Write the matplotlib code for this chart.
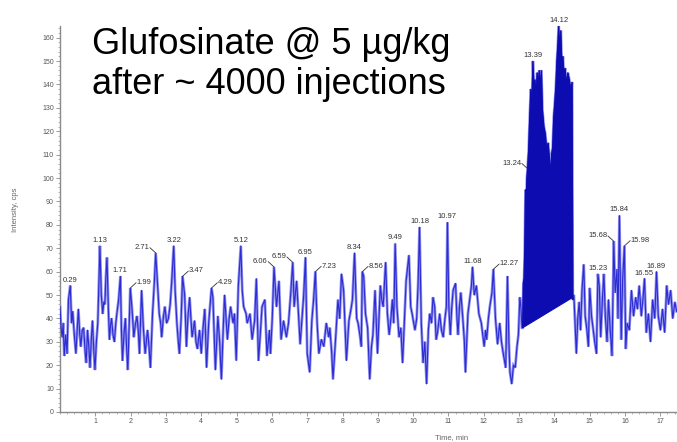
import numpy as np
import matplotlib
matplotlib.use("Agg")
import matplotlib.pyplot as plt
from matplotlib.ticker import MultipleLocator

time_a = [0.00, 0.03, 0.06, 0.09, 0.12, 0.16, 0.20, 0.24, 0.29, 0.33,
          0.36, 0.40, 0.45, 0.49, 0.52, 0.56, 0.59, 0.63, 0.67, 0.71,
          0.74, 0.78, 0.82, 0.85, 0.89, 0.92, 0.96, 0.99, 1.03, 1.07,
          1.10, 1.13, 1.17, 1.21, 1.24, 1.27, 1.30, 1.33, 1.37, 1.40,
          1.43, 1.46, 1.50, 1.54, 1.58, 1.61, 1.66, 1.71, 1.74, 1.77,
          1.81, 1.85, 1.89, 1.92, 1.96, 1.99, 2.04, 2.09, 2.13, 2.18,
          2.22, 2.25, 2.28, 2.31, 2.36, 2.41, 2.45, 2.48, 2.52, 2.56,
          2.59, 2.62, 2.67, 2.71, 2.76, 2.81, 2.85, 2.88, 2.93, 2.97,
          3.02, 3.07, 3.12, 3.16, 3.22, 3.26, 3.31, 3.35, 3.38, 3.43]
cps_a = [45, 36, 32, 38, 24, 33, 25, 48, 54, 38,
         43, 34, 25, 36, 44, 33, 28, 35, 36, 26,
         21, 35, 27, 19, 32, 39, 25, 18, 30, 38,
         55, 71, 50, 42, 47, 46, 58, 66, 44, 31,
         37, 40, 33, 30, 38, 42, 48, 58, 35, 22,
         33, 40, 26, 18, 38, 53, 44, 32, 37, 41,
         34, 25, 38, 52, 36, 25, 31, 35, 28, 19,
         30, 42, 55, 68, 55, 42, 38, 32, 41, 45,
         38, 40, 46, 55, 71, 52, 38, 30, 25, 40]

time_b = [3.47, 3.53, 3.58, 3.62, 3.67, 3.74, 3.81, 3.85, 3.89, 3.95,
          4.00, 4.05, 4.10, 4.15, 4.21, 4.29, 4.33, 4.40, 4.47, 4.52,
          4.57, 4.62, 4.66, 4.74, 4.79, 4.83, 4.90, 4.94, 4.99, 5.05,
          5.12, 5.16, 5.20, 5.27, 5.30, 5.38, 5.44, 5.51, 5.56, 5.62,
          5.67, 5.72, 5.80, 5.86, 5.93, 5.96, 6.01, 6.06, 6.13, 6.20,
          6.26, 6.33, 6.41, 6.47, 6.53, 6.59, 6.63, 6.70, 6.76, 6.80,
          6.86, 6.90, 6.95, 7.00, 7.07, 7.13, 7.18, 7.23, 7.28, 7.33]
cps_b = [58, 50, 28, 40, 49, 32, 39, 30, 27, 35,
         25, 36, 44, 19, 38, 53, 49, 18, 41, 30,
         14, 35, 50, 31, 40, 45, 38, 42, 22, 54,
         71, 52, 45, 42, 38, 42, 31, 39, 57, 22,
         33, 45, 48, 24, 35, 25, 40, 62, 45, 56,
         31, 39, 32, 38, 50, 64, 45, 56, 40, 29,
         42, 50, 66, 25, 17, 39, 48, 60, 38, 25]

time_c = [7.40, 7.47, 7.54, 7.61, 7.64, 7.69, 7.73, 7.81, 7.87, 7.92,
          7.97, 8.03, 8.11, 8.18, 8.24, 8.28, 8.34, 8.40, 8.44, 8.49,
          8.53, 8.56, 8.60, 8.65, 8.71, 8.77, 8.82, 8.86, 8.92, 8.99,
          9.07, 9.11, 9.15, 9.22, 9.27, 9.32, 9.37, 9.41, 9.45, 9.49,
          9.54, 9.60, 9.65, 9.70, 9.75, 9.80, 9.88, 9.93, 9.97, 10.05,
          10.10, 10.14, 10.18, 10.23, 10.28, 10.33, 10.38, 10.43, 10.47, 10.52,
          10.56, 10.61, 10.65, 10.69, 10.75, 10.80, 10.85, 10.90, 10.94, 10.97]
cps_c = [31, 28, 38, 32, 36, 26, 14, 33, 48, 40,
         59, 52, 22, 39, 44, 48, 68, 40, 38, 33,
         28, 60, 58, 42, 36, 14, 28, 33, 52, 25,
         54, 48, 45, 64, 42, 33, 40, 48, 38, 72,
         45, 32, 36, 21, 38, 56, 67, 45, 42, 35,
         40, 55, 79, 38, 21, 30, 12, 35, 42, 38,
         49, 45, 31, 34, 42, 35, 32, 40, 45, 81]

time_d = [11.01, 11.05, 11.09, 11.13, 11.20, 11.24, 11.27, 11.31, 11.35, 11.41,
          11.45, 11.48, 11.55, 11.60, 11.65, 11.68, 11.73, 11.79, 11.86, 11.93,
          12.01, 12.05, 12.08, 12.13, 12.17, 12.23, 12.27, 12.33, 12.39, 12.45,
          12.50, 12.55, 12.62, 12.67, 12.71, 12.74, 12.79, 12.84, 12.89, 12.94,
          12.98, 13.02, 13.05, 13.08]
cps_d = [45, 33, 44, 52, 55, 40, 33, 45, 51, 39,
         30, 17, 42, 48, 54, 62, 50, 54, 42, 38,
         28, 35, 31, 40, 45, 51, 61, 40, 29, 38,
         30, 25, 19, 58, 30, 17, 12, 20, 19, 28,
         33, 49, 45, 36]

# integrated glufosinate peak
time_peak = [13.10, 13.12, 13.14, 13.16, 13.18, 13.20, 13.22, 13.24, 13.27, 13.30,
             13.33, 13.36, 13.39, 13.42, 13.45, 13.48, 13.51, 13.54, 13.57, 13.60,
             13.63, 13.66, 13.70, 13.74, 13.78, 13.82, 13.86, 13.89, 13.92, 13.95,
             13.98, 14.01, 14.04, 14.07, 14.10, 14.12, 14.15, 14.18, 14.21, 14.24,
             14.27, 14.30, 14.34, 14.38, 14.42, 14.46, 14.50, 14.52]
cps_peak = [36, 55, 57, 70, 95, 88, 100, 104, 112, 126,
            138, 130, 150, 139, 142, 134, 145, 140, 146, 138,
            146, 129, 122, 119, 112, 115, 108, 101, 110, 113,
            126, 132, 139, 150, 158, 165, 155, 163, 148, 152,
            143, 147, 140, 145, 142, 138, 141, 48]

time_f = [14.55, 14.58, 14.62, 14.66, 14.70, 14.74, 14.78, 14.83, 14.87, 14.92,
          14.96, 15.00, 15.05, 15.10, 15.14, 15.19, 15.23, 15.27, 15.31, 15.36,
          15.40, 15.44, 15.49, 15.53, 15.58, 15.63, 15.68, 15.72, 15.77, 15.80,
          15.84, 15.89, 15.93, 15.98, 16.02, 16.06, 16.12, 16.18, 16.24, 16.30,
          16.35, 16.40, 16.46, 16.51, 16.55, 16.60, 16.66, 16.72, 16.78, 16.84,
          16.89, 16.94, 17.00, 17.06, 17.12, 17.18, 17.23, 17.29, 17.35, 17.41,
          17.46]
cps_f = [50, 39, 25, 40, 47, 35, 52, 63, 41, 35,
         28, 53, 41, 35, 30, 25, 59, 54, 32, 49,
         59, 41, 30, 48, 35, 24, 73, 51, 61, 40,
         84, 31, 56, 71, 27, 38, 35, 52, 41, 49,
         44, 54, 41, 49, 57, 34, 42, 30, 48, 40,
         60, 41, 35, 44, 34, 54, 46, 52, 40, 47,
         43]

# straight baseline under the integrated peak
base_start = (13.10, 36)
base_end = (14.52, 49)

# labelled apex retention times
peak_times = [0.29, 1.13, 1.71, 1.99, 2.71, 3.22, 3.47, 4.29, 5.12, 6.06,
              6.59, 6.95, 7.23, 8.34, 8.56, 9.49, 10.18, 10.97, 11.68, 12.27,
              13.24, 13.39, 14.12, 15.23, 15.68, 15.84, 15.98, 16.55, 16.89]

# labels sitting beside their apex with a small leader (-1 left, +1 right)
leader_side = {1.99: 1, 2.71: -1, 3.47: 1, 4.29: 1, 6.06: -1, 6.59: -1,
               7.23: 1, 8.56: 1, 12.27: 1, 13.24: -1, 15.68: -1, 15.98: 1}

time = np.array(time_a + time_b + time_c + time_d + time_peak + time_f)
cps = np.array(cps_a + cps_b + cps_c + cps_d + cps_peak + cps_f, dtype=float)

fig = plt.figure(figsize=(6.77, 4.42), dpi=100)
ax = fig.add_axes([60 / 677, 30 / 442, 617 / 677, 386 / 442])

ax.plot(time, cps, color="#9292f0", lw=2.0, solid_joinstyle="miter", zorder=2)
ax.plot(time, cps, color="#2b2bd2", lw=0.8, zorder=3)

ax.fill(time_peak + [base_end[0], base_start[0]],
        cps_peak + [base_end[1], base_start[1]],
        facecolor="#0c0cb0", edgecolor="#0c0cb0", lw=0.8, zorder=4)

ax.set_xlim(0, 17.47)
ax.set_ylim(0, 165)
ax.set_xticks(range(1, 18))
ax.set_yticks(range(0, 161, 10))
ax.xaxis.set_minor_locator(MultipleLocator(0.2))
ax.yaxis.set_minor_locator(MultipleLocator(2))

for side in ["top", "right"]:
    ax.spines[side].set_visible(False)
for side in ["left", "bottom"]:
    ax.spines[side].set_color("#8a8a8a")
    ax.spines[side].set_linewidth(1.0)

ax.tick_params(which="major", length=3, width=0.6, color="#8a8a8a",
               labelsize=5, labelcolor="#555555", pad=1.5)
ax.tick_params(which="minor", length=1.5, width=0.5, color="#9a9a9a")
for lab in ax.get_xticklabels() + ax.get_yticklabels():
    lab.set_family("Liberation Sans")

ax.set_ylabel("Intensity, cps", fontsize=5.5, color="#666666",
              family="Liberation Sans")
ax.yaxis.set_label_coords(-41 / 617, (412 - 210) / 386)
ax.set_xlabel("Time, min", fontsize=5.5, color="#666666",
              family="Liberation Sans")
ax.xaxis.set_label_coords((452 - 60) / 617, -22 / 386)

label_style = dict(textcoords="offset points", va="bottom", fontsize=5.5,
                   color="#333333", family="Liberation Sans", zorder=6)
apex = np.interp(peak_times, time, cps)
for t, h in zip(peak_times, apex):
    side = leader_side.get(t)
    if side is None:
        ax.annotate(f"{t:.2f}", xy=(t, h), xytext=(0, 1.5), ha="center",
                    **label_style)
    else:
        # label beside the apex, joined to it by a short hook
        ax.annotate(f"{t:.2f}", xy=(t, h), xytext=(side * 4.5, 1.5),
                    ha="left" if side > 0 else "right", **label_style)
        ax.annotate("", xy=(t, h), xytext=(side * 4.2, 3.8),
                    textcoords="offset points", zorder=6,
                    arrowprops=dict(arrowstyle="-", lw=0.6, color="#333333",
                                    shrinkA=0, shrinkB=0.3))

fig.text(92 / 677, 1 - 54 / 442, "Glufosinate @ 5 µg/kg", fontsize=26,
         family="Liberation Sans", va="baseline", ha="left")
fig.text(92 / 677, 1 - 94 / 442, "after ~ 4000 injections", fontsize=26,
         family="Liberation Sans", va="baseline", ha="left")

fig.savefig("out.png", dpi=100)
